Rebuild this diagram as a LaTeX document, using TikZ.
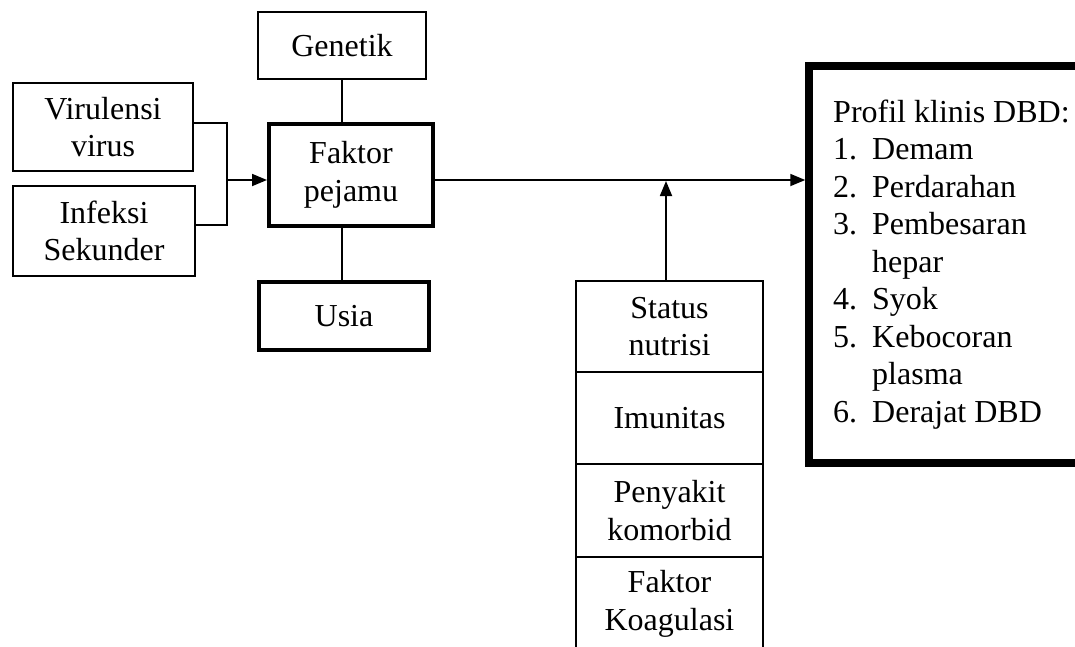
\documentclass[tikz,border=0pt]{standalone}
\usepackage{fontspec}
\setmainfont{Liberation Serif}
\usetikzlibrary{arrows.meta}
\begin{document}
\begin{tikzpicture}[x=1pt,y=-1pt,
  txt/.style={font=\fontsize{32}{37.5}\selectfont, align=center, inner sep=0pt},
  box/.style n args={2}{txt, draw, line width=1.8pt, minimum width=#1, minimum height=#2},
  thick box/.style n args={2}{txt, draw, line width=4pt, minimum width=#1, minimum height=#2},
  conn/.style={line width=1.8pt},
  arr/.style={line width=1.8pt, -{Triangle[length=15pt,width=12pt]}}]
\useasboundingbox (0,0) rectangle (1075,646);
\clip (0,0) rectangle (1075,646);
\fill[white] (0,0) rectangle (1075,646);

\node[box={168pt}{67pt}] (gen) at (342,45.5) {Genetik};
\node[box={180pt}{88pt}] (vir) at (103,127) {Virulensi\\virus};
\node[box={182pt}{90pt}] (inf) at (104,231) {Infeksi\\Sekunder};
\node[thick box={164pt}{102pt}] (fp) at (351,175) {Faktor\\pejamu};
\node[thick box={170pt}{68pt}] (usia) at (344,316) {Usia};

\node[box={187pt}{91pt}] (status) at (669.5,326.5) {Status\\nutrisi};
\node[box={187pt}{92pt}] (imun) at (669.5,418) {Imunitas};
\node[box={187pt}{93pt}] (peny) at (669.5,510.5) {Penyakit\\komorbid};
\node[box={187pt}{94pt}] (koag) at (669.5,604) {Faktor\\Koagulasi};

\node[draw, line width=7.5pt, minimum width=291pt, minimum height=397pt, inner sep=0pt] (prof) at (954.5,264.5) {};
\node[txt, align=left, anchor=north west] (list) at (833,99.5) {Profil klinis DBD:\\
\makebox[39pt][l]{1.}Demam\\
\makebox[39pt][l]{2.}Perdarahan\\
\makebox[39pt][l]{3.}Pembesaran\\
\hspace*{39pt}hepar\\
\makebox[39pt][l]{4.}Syok\\
\makebox[39pt][l]{5.}Kebocoran\\
\hspace*{39pt}plasma\\
\makebox[39pt][l]{6.}Derajat DBD};

\coordinate (join) at (227,180);
\coordinate (mid) at (666,181);
\coordinate (gx) at (342,0);

\draw[conn] ([yshift=4pt]vir.east) -| (join) |- ([yshift=6pt]inf.east);
\draw[arr] (join) -- (fp.west |- join);
\draw[conn] (gen.south) -- (fp.north -| gx);
\draw[conn] (fp.south -| gx) -- (usia.north -| gx);
\draw[arr] (fp.east |- join) -- (prof.west |- join);
\draw[arr] (status.north -| mid) -- (mid);
\end{tikzpicture}
\end{document}
